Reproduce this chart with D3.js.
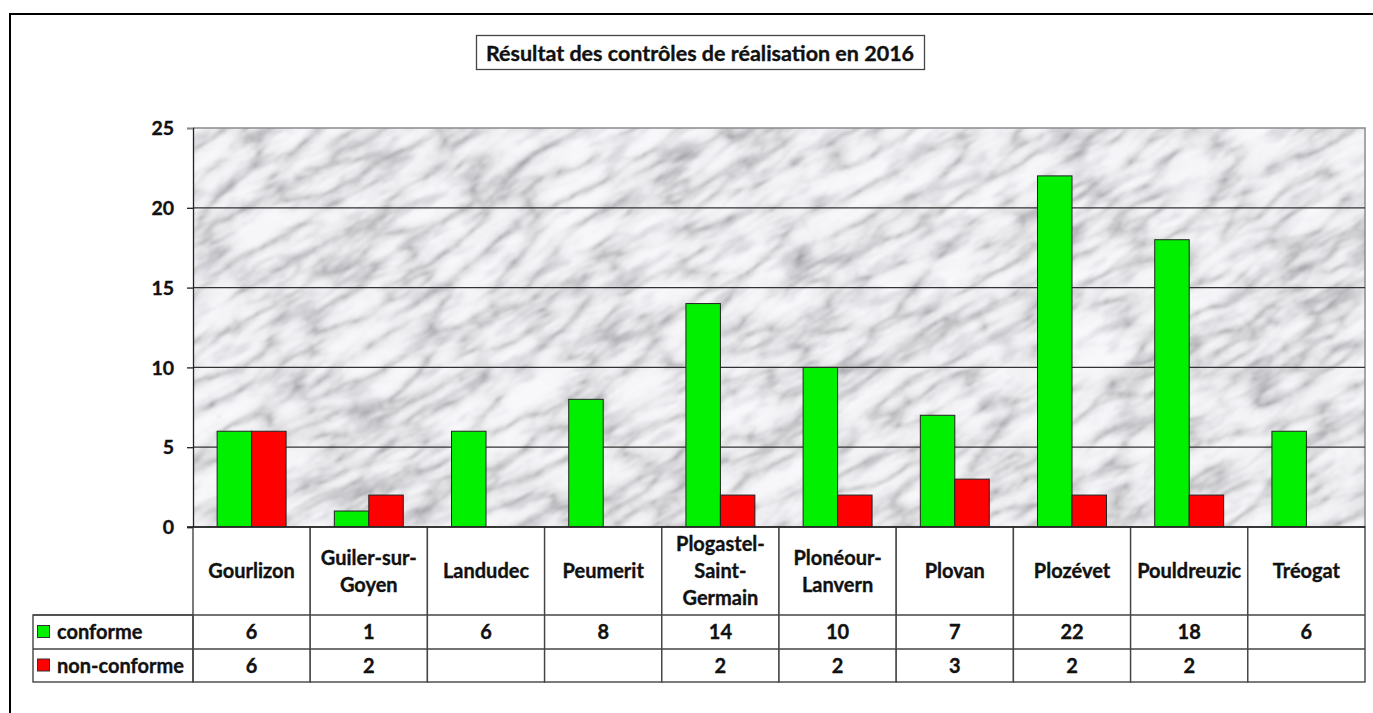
<!DOCTYPE html>
<html>
<head>
<meta charset="utf-8">
<script src="https://cdn.jsdelivr.net/npm/d3@7"></script>
<style>
  html, body { margin: 0; padding: 0; background: #fff; }
  svg { display: block; }
  text { font-family: Lato, "Open Sans", sans-serif; font-weight: bold; fill: #111; stroke: #111; stroke-width: 0.35px; }
</style>
</head>
<body>
<svg id="chart" width="1373" height="713"></svg>
<script>
// Contrôles de réalisation 2016, par commune
const titleText = "Résultat des contrôles de réalisation en 2016";
const communes = ["Gourlizon", "Guiler-sur-Goyen", "Landudec", "Peumerit", "Plogastel-Saint-Germain",
                  "Plonéour-Lanvern", "Plovan", "Plozévet", "Pouldreuzic", "Tréogat"];
const communeLines = [["Gourlizon"], ["Guiler-sur-", "Goyen"], ["Landudec"], ["Peumerit"],
                      ["Plogastel-", "Saint-", "Germain"], ["Plonéour-", "Lanvern"], ["Plovan"],
                      ["Plozévet"], ["Pouldreuzic"], ["Tréogat"]];
const seriesNames = ["conforme", "non-conforme"];
const conforme    = [6, 1, 6, 8, 14, 10, 7, 22, 18, 6];
const nonConforme = [6, 2, null, null, 2, 2, 3, 2, 2, null];
const seriesColors = ["#00f000", "#ff0000"];
const yTicks = [0, 5, 10, 15, 20, 25];

const series = [conforme, nonConforme];

const svg = d3.select("#chart");
const defs = svg.append("defs");

// layout
const plot = { left: 193, right: 1365, top: 128, bottom: 527 };
const table = { legendLeft: 33, headerBottom: 615, row1Bottom: 649, row2Bottom: 682 };

const x = d3.scaleBand().domain(communes).range([plot.left, plot.right]).paddingInner(0).paddingOuter(0);
const xs = d3.scaleBand().domain(seriesNames).range([0, x.bandwidth()]).paddingInner(0).paddingOuter(0.7);
const y = d3.scaleLinear().domain([0, 25]).range([plot.bottom, plot.top]);

// outer chart frame
svg.append("rect").attr("x", 10).attr("y", 14).attr("width", 1500).attr("height", 900)
  .attr("fill", "#fff").attr("stroke", "#000").attr("stroke-width", 2);

// title in a box
const tg = svg.append("g");
tg.append("rect").attr("x", 476.5).attr("y", 35.5).attr("width", 448).attr("height", 34)
  .attr("fill", "#fff").attr("stroke", "#444").attr("stroke-width", 1.3);
tg.append("text").attr("x", 700).attr("y", 53).attr("dy", "0.36em").attr("text-anchor", "middle")
  .style("font-size", "21.5px").text(titleText);

// marble texture for the plot background: thin veins times soft grey mottling
defs.append("clipPath").attr("id", "plotClip").append("rect")
  .attr("x", plot.left).attr("y", plot.top).attr("width", plot.right - plot.left).attr("height", plot.bottom - plot.top);
const f = defs.append("filter").attr("id", "marble").attr("x", 0).attr("y", 0).attr("width", 1).attr("height", 1)
  .attr("filterUnits", "objectBoundingBox").attr("primitiveUnits", "userSpaceOnUse")
  .attr("color-interpolation-filters", "sRGB");
f.append("feTurbulence").attr("type", "turbulence").attr("baseFrequency", "0.012 0.036")
  .attr("numOctaves", 6).attr("seed", 11).attr("result", "noise");
f.append("feColorMatrix").attr("in", "noise").attr("type", "matrix")
  .attr("values", "1 0 0 0 0  1 0 0 0 0  1 0 0 0 0  0 0 0 0 1").attr("result", "grey");
const ct = f.append("feComponentTransfer").attr("in", "grey").attr("result", "veins");
const tv = "0.66 0.8 0.89 0.94 0.96 0.97 0.975 0.975 0.975";
ct.append("feFuncR").attr("type", "table").attr("tableValues", tv);
ct.append("feFuncG").attr("type", "table").attr("tableValues", tv);
ct.append("feFuncB").attr("type", "table").attr("tableValues", tv.split(" ").map(v => Math.min(1, +v + 0.01)).join(" "));
f.append("feTurbulence").attr("type", "fractalNoise").attr("baseFrequency", "0.02 0.06")
  .attr("numOctaves", 4).attr("seed", 3).attr("result", "mottle0");
f.append("feColorMatrix").attr("in", "mottle0").attr("type", "matrix")
  .attr("values", "0.45 0 0 0 0.79  0.45 0 0 0 0.79  0.45 0 0 0 0.80  0 0 0 0 1").attr("result", "mottle");
f.append("feBlend").attr("in", "veins").attr("in2", "mottle").attr("mode", "multiply").attr("result", "mix");
f.append("feGaussianBlur").attr("in", "mix").attr("stdDeviation", 0.8);
const bg = svg.append("g").attr("clip-path", "url(#plotClip)");
bg.append("rect").attr("x", plot.left).attr("y", plot.top).attr("width", plot.right - plot.left)
  .attr("height", plot.bottom - plot.top).attr("fill", "#ececee");
bg.append("g").attr("transform", `rotate(-30 ${(plot.left + plot.right) / 2} ${(plot.top + plot.bottom) / 2})`)
  .append("rect").attr("x", plot.left - 300).attr("y", plot.top - 600)
  .attr("width", plot.right - plot.left + 600).attr("height", plot.bottom - plot.top + 1200)
  .attr("filter", "url(#marble)");

// plot area border (top/right)
svg.append("path")
  .attr("d", `M${plot.left},${plot.top}H${plot.right}V${plot.bottom}`)
  .attr("fill", "none").attr("stroke", "#8a8a8a").attr("stroke-width", 1.5);

// horizontal gridlines
svg.append("g").selectAll("line").data(yTicks.filter(t => t > 0 && t < 25)).join("line")
  .attr("x1", plot.left).attr("x2", plot.right).attr("y1", d => y(d)).attr("y2", d => y(d))
  .attr("stroke", "#333").attr("stroke-width", 1.2);

// bars
const barG = svg.append("g");
series.forEach((vals, si) => {
  barG.append("g").selectAll("rect").data(communes.map((c, i) => ({ c, v: vals[i] })).filter(d => d.v != null))
    .join("rect")
    .attr("x", d => x(d.c) + xs(seriesNames[si]))
    .attr("y", d => y(d.v))
    .attr("width", xs.bandwidth())
    .attr("height", d => y(0) - y(d.v))
    .attr("fill", seriesColors[si]).attr("stroke", "#222").attr("stroke-width", 1);
});

// y axis
const yAxis = d3.axisLeft(y).tickValues(yTicks).tickSize(6).tickPadding(13);
const ya = svg.append("g").attr("transform", `translate(${plot.left},0)`).call(yAxis);
ya.select(".domain").attr("stroke", "#222").attr("stroke-width", 1.3);
ya.selectAll(".tick line").attr("stroke", "#222").attr("stroke-width", 1.3);
ya.selectAll(".tick text").style("font-size", "19.5px").style("font-family", "Lato, sans-serif")
  .style("font-weight", "bold").attr("fill", "#111").attr("dy", "0.34em");
ya.selectAll(".tick").filter(d => d === 25).select("line").attr("stroke", "#8a8a8a");

// data table
const tbl = svg.append("g");
const lineCol = "#444";
tbl.append("g").selectAll("rect").data(communes).join("rect")
  .attr("x", d => x(d)).attr("y", plot.bottom).attr("width", x.bandwidth())
  .attr("height", table.row2Bottom - plot.bottom)
  .attr("fill", "#fff").attr("stroke", lineCol).attr("stroke-width", 1.4);
[table.headerBottom, table.row1Bottom].forEach(yy => {
  tbl.append("line").attr("x1", table.legendLeft).attr("x2", plot.right).attr("y1", yy).attr("y2", yy)
    .attr("stroke", lineCol).attr("stroke-width", 1.4);
});
tbl.append("rect").attr("x", table.legendLeft).attr("y", table.headerBottom)
  .attr("width", plot.left - table.legendLeft).attr("height", table.row2Bottom - table.headerBottom)
  .attr("fill", "none").attr("stroke", lineCol).attr("stroke-width", 1.4);
tbl.append("line").attr("x1", plot.left - 6).attr("x2", plot.right).attr("y1", plot.bottom).attr("y2", plot.bottom)
  .attr("stroke", "#222").attr("stroke-width", 1.4);

// category labels
const lh = 27;
communes.forEach((c, i) => {
  const lines = communeLines[i];
  const cy = (plot.bottom + table.headerBottom) / 2;
  const y0 = cy - (lines.length - 1) * lh / 2;
  const t = tbl.append("text").attr("text-anchor", "middle").style("font-size", "20px");
  lines.forEach((ln, k) => {
    t.append("tspan").attr("x", x(c) + x.bandwidth() / 2).attr("y", y0 + k * lh).attr("dy", "0.36em").text(ln);
  });
});

// rows: legend key + values
const rowMid = [(table.headerBottom + table.row1Bottom) / 2, (table.row1Bottom + table.row2Bottom) / 2];
series.forEach((vals, si) => {
  const ym = rowMid[si];
  tbl.append("rect").attr("x", 37.5).attr("y", ym - 6.5).attr("width", 12).attr("height", 12)
    .attr("fill", seriesColors[si]).attr("stroke", "#333").attr("stroke-width", 1);
  tbl.append("text").attr("x", 57).attr("y", ym).attr("dy", "0.36em").style("font-size", "20px").text(seriesNames[si]);
  tbl.append("g").selectAll("text").data(communes.map((c, i) => ({ c, v: vals[i] })).filter(d => d.v != null))
    .join("text").attr("x", d => x(d.c) + x.bandwidth() / 2).attr("y", ym).attr("dy", "0.36em")
    .attr("text-anchor", "middle").style("font-size", "20px").text(d => d.v);
});
</script>
</body>
</html>
